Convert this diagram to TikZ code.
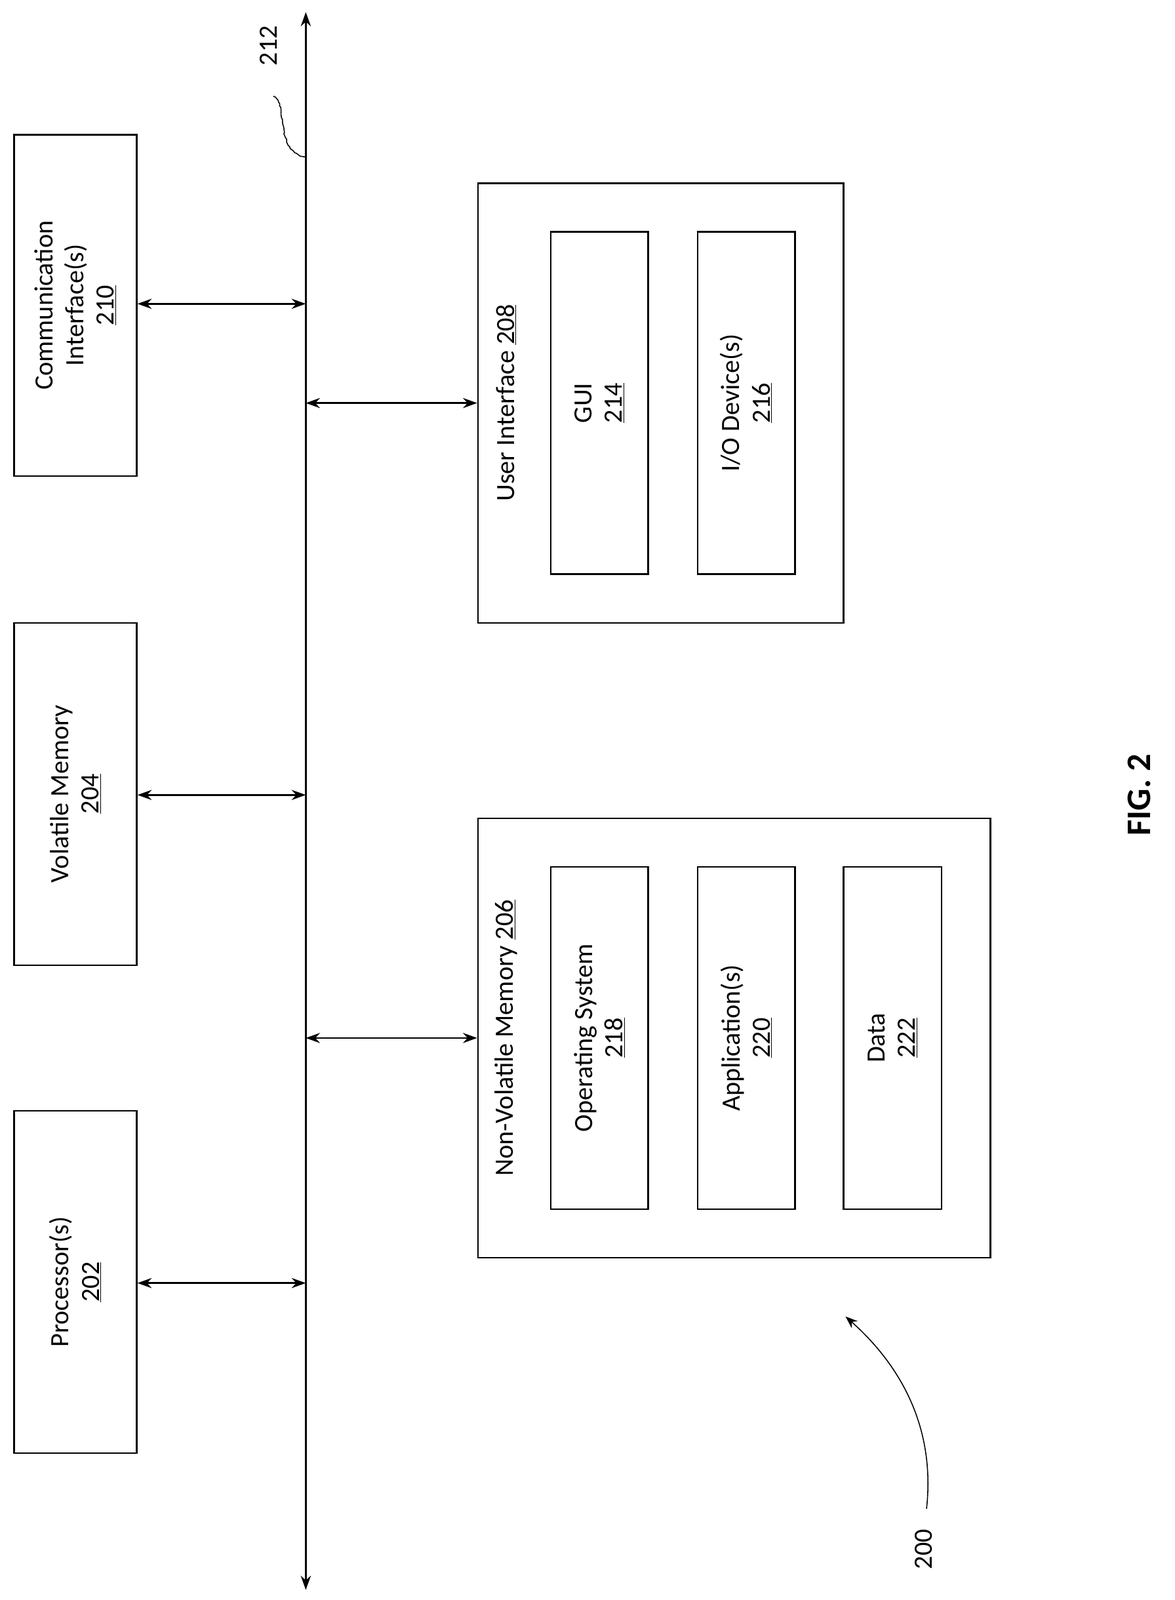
\documentclass[tikz,border=0pt]{standalone}
\usepackage{fontspec}
\setmainfont{Carlito}
\usetikzlibrary{arrows.meta,decorations.pathmorphing}
\begin{document}
\begin{tikzpicture}[x=1pt,y=-1pt,
  box/.style={draw,line width=1.6pt,inner sep=0pt},
  lbl/.style={rotate=90,align=center,font=\fontsize{26}{30}\selectfont},
  arr/.style={line width=1.6pt,{Stealth[length=14pt,width=10pt]}-{Stealth[length=14pt,width=10pt]}}]
\useasboundingbox (0,0) rectangle (1160,1580);
% bus
\coordinate (bt) at (302,12);
\coordinate (bb) at (302,1570);
\draw[arr] (bt) -- (bb);
\node[lbl] (l212) at (265,45) {212};
\draw[line width=1pt,decorate,decoration={random steps,segment length=2pt,amplitude=0.6pt}] (270,95) .. controls (285,100) and (270,150) .. (302,155);
% left boxes
\node[box,minimum width=121pt,minimum height=337pt] (comm) at (74.5,301.5) {};
\node[lbl] at (comm) {Communication\\Interface(s)\\\underline{210}};
\node[box,minimum width=121pt,minimum height=338pt] (vol) at (74.5,784) {};
\node[lbl] at (vol) {Volatile Memory\\\underline{204}};
\node[box,minimum width=121pt,minimum height=338pt] (proc) at (74.5,1266) {};
\node[lbl] at (proc) {Processor(s)\\\underline{202}};
\coordinate (b1) at (302,300);
\coordinate (b2) at (302,785);
\coordinate (b3) at (302,1267);
\coordinate (b4) at (302,398);
\coordinate (b5) at (302,1025);
\draw[arr] (comm.east|-b1) -- (b1);
\draw[arr] (vol.east|-b2) -- (b2);
\draw[arr] (proc.east|-b3) -- (b3);
% UI
\node[box,minimum width=361pt,minimum height=434pt] (ui) at (652.5,398) {};
\node[lbl] at (500,398) {User Interface \underline{208}};
\node[box,minimum width=96pt,minimum height=338pt] (gui) at (592,398) {};
\node[lbl] at (gui) {GUI\\\underline{214}};
\node[box,minimum width=96pt,minimum height=338pt] (io) at (737,398) {};
\node[lbl] at (io) {I/O Device(s)\\\underline{216}};
\draw[arr] (b4) -- (ui.west|-b4);
% NVM
\node[box,minimum width=506pt,minimum height=434pt] (nvm) at (725,1025) {};
\node[lbl] at (500,1025) {Non-Volatile Memory \underline{206}};
\node[box,minimum width=96pt,minimum height=338pt] (os) at (592,1025) {};
\node[lbl] at (os) {Operating System\\\underline{218}};
\node[box,minimum width=96pt,minimum height=338pt] (app) at (737,1025) {};
\node[lbl] at (app) {Application(s)\\\underline{220}};
\node[box,minimum width=97pt,minimum height=338pt] (data) at (881.5,1025) {};
\node[lbl] at (data) {Data\\\underline{222}};
\draw[arr] (b5) -- (nvm.west|-b5);
% fig label
\node[lbl,font=\fontsize{34}{40}\selectfont\bfseries] (fig) at (1125,785) {FIG. 2};
\node[lbl] (l200) at (912,1530) {200};
\coordinate (a200) at (835,1300);
\draw[line width=1pt,-{Stealth[length=12pt,width=9pt]}] (915,1490) .. controls (925,1400) and (880,1340) .. (a200);
\end{tikzpicture}
\end{document}
